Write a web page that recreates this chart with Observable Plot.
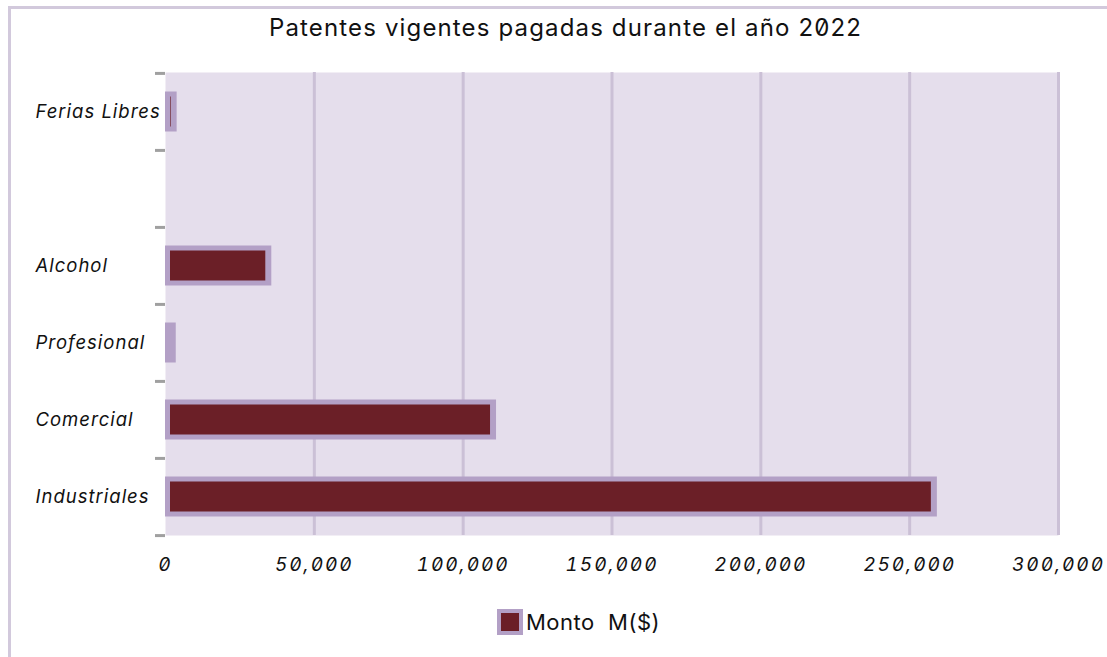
<!DOCTYPE html>
<html>
<head>
<meta charset="utf-8">
<script src="https://cdn.jsdelivr.net/npm/d3@7"></script>
<script src="https://cdn.jsdelivr.net/npm/@observablehq/plot@0.6"></script>
<style>
  html, body { margin: 0; padding: 0; background: #fff; width: 1107px; height: 657px; overflow: hidden; }
  body { font-family: Inter, "Noto Sans", sans-serif; font-feature-settings: "zero" 1; position: relative; }
  #border { position: absolute; left: 8px; top: 6px; right: -10px; bottom: -10px; border-left: 3px solid #d2c9dc; border-top: 3px solid #d2c9dc; }
  #title { position: relative; height: 50px; line-height: 56px; text-align: center; font-size: 24px; letter-spacing: 1.15px; color: #111; padding-left: 24px; box-sizing: border-box; }
  #chart { position: relative; }
  #legend { position: relative; display: flex; justify-content: center; align-items: center; margin-top: 19px; padding-left: 50px; font-size: 22px; letter-spacing: 0.5px; color: #111; }
  #legend .sw { width: 18px; height: 18px; background: #6b1f27; border: 4px solid #b3a0c6; margin-right: 3px; }
  svg text { font-feature-settings: "zero" 1; }
  .ylab text { letter-spacing: 1px; }
  .xlab text { letter-spacing: 2px; }
</style>
</head>
<body>
<div id="border"></div>
<div id="title">Patentes vigentes pagadas durante el año 2022</div>
<div id="chart"></div>
<div id="legend"><div class="sw"></div><span>Monto&nbsp;&nbsp;M($)</span></div>
<script>
const categories = ["Ferias Libres", " ", "Alcohol", "Profesional", "Comercial", "Industriales"];
const montos = [2900, null, 34700, 2600, 110200, 258300];
const xTicks = [0, 50000, 100000, 150000, 200000, 250000, 300000];
const seriesName = "Monto  M($)";

const rows = categories.map((c, i) => ({categoria: c, monto: montos[i]})).filter(d => d.monto != null);

const W = 1107, H = 540, mt = 22, mb = 55, ml = 165, mr = 49;
const bw = (H - mt - mb) / categories.length;

const chart = Plot.plot({
  width: W, height: H,
  marginTop: mt, marginBottom: mb, marginLeft: ml, marginRight: mr,
  style: {fontFamily: "Inter, 'Noto Sans', sans-serif", fontSize: "18px", color: "#111", background: "transparent"},
  x: {domain: [0, 300000], axis: null},
  y: {domain: categories, padding: 0, axis: null},
  marks: [
    Plot.frame({fill: "#e5deec", stroke: null}),
    Plot.gridX(xTicks.slice(1), {stroke: "#cbc0d6", strokeWidth: 3, strokeOpacity: 1}),
    Plot.barX(rows, {x: "monto", y: "categoria", fill: "#b3a0c6", insetTop: 18.5, insetBottom: 18.5, insetRight: -3}),
    Plot.barX(rows, {x: "monto", y: "categoria", fill: "#6b1f27", insetTop: 23.5, insetBottom: 23.5, insetLeft: 5, insetRight: 3}),
    Plot.axisY({ticks: categories, tickFormat: () => "", tickSize: 10, dy: -bw / 2, stroke: "#a0a0a0", strokeWidth: 3, label: null}),
    Plot.axisY({ticks: [categories[categories.length - 1]], tickFormat: () => "", tickSize: 10, dy: bw / 2, stroke: "#a0a0a0", strokeWidth: 3, label: null}),
    Plot.text(categories, {y: d => d, frameAnchor: "left", dx: -130, textAnchor: "start", fontStyle: "italic", fontSize: 18.5, fill: "#111", className: "ylab"}),
    Plot.axisX({ticks: xTicks, tickFormat: d3.format(","), tickSize: 0, tickPadding: 22, fontStyle: "italic", fontSize: 19, fill: "#111", label: null, className: "xlab"})
  ]
});
document.getElementById("chart").appendChild(chart);
</script>
</body>
</html>
